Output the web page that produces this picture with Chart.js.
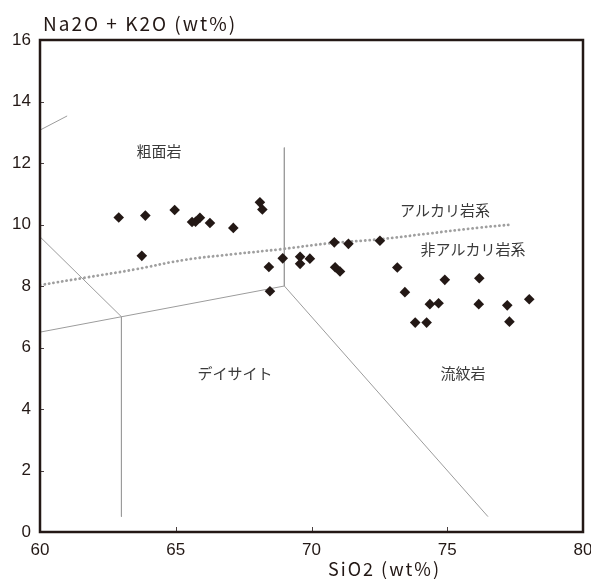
<!DOCTYPE html>
<html>
<head>
<meta charset="utf-8">
<script src="https://cdn.jsdelivr.net/npm/chart.js@4.4.1/dist/chart.umd.min.js"></script>
<style>
  html, body { margin: 0; padding: 0; background: #fff; }
  #wrap { width: 591px; height: 579px; }
</style>
</head>
<body>
<div id="wrap"><canvas id="tasChart"></canvas></div>
<script>
// sample points: SiO2 (wt%) and Na2O + K2O (wt%)
const sio2 = [62.90, 63.88, 64.96, 63.75, 65.60, 65.73, 65.89, 66.26, 67.12, 68.10,
              68.19, 68.43, 68.47, 68.94, 69.58, 69.58, 69.94, 70.84, 71.36, 72.52,
              70.87, 71.05, 73.16, 73.44, 74.91, 76.18, 74.36, 74.68, 76.16, 77.21,
              78.02, 73.82, 74.24, 77.29];
const alkali = [10.23, 10.29, 10.47, 8.98, 10.08, 10.09, 10.22, 10.05, 9.89, 10.72,
                10.49, 8.62, 7.83, 8.90, 8.95, 8.72, 8.89, 9.42, 9.37, 9.47,
                8.61, 8.47, 8.60, 7.80, 8.20, 8.25, 7.41, 7.44, 7.41, 7.37,
                7.57, 6.81, 6.81, 6.84];

// TAS field boundaries (each segment: [x1, y1, x2, y2])
const boundaries = [
  [60, 13.07, 61, 13.53],
  [69, 12.5, 69, 8],
  [60, 9.6, 63, 7],
  [60, 6.5, 63, 7],
  [63, 7, 63, 0.5],
  [63, 7, 69, 8],
  [69, 8, 76.5, 0.5]
];

// alkaline / subalkaline dividing curve
const dividerX = [60, 61.65, 63.5, 65.33, 67.17, 68.9, 70.66, 72.5, 74.34, 76.18, 77.4];
const dividerY = [8.03, 8.27, 8.54, 8.85, 9.04, 9.2, 9.39, 9.52, 9.71, 9.9, 10.0];

const rockNames = ['粗面岩', 'アルカリ岩系', '非アルカリ岩系', 'デイサイト', '流紋岩'];
const xTicks = [60, 65, 70, 75, 80];
const yTicks = [0, 2, 4, 6, 8, 10, 12, 14, 16];

const dark = '#231815';

const datasets = [{
  label: 'samples',
  data: sio2.map((x, i) => ({ x: x, y: alkali[i] })),
  pointStyle: 'rectRot',
  pointRadius: 5.3,
  pointHoverRadius: 5.3,
  backgroundColor: dark,
  borderColor: dark,
  borderWidth: 0,
  showLine: false
}, {
  label: 'divider',
  data: dividerX.map((x, i) => ({ x: x, y: dividerY[i] })),
  showLine: true,
  tension: 0.4,
  pointRadius: 0,
  borderColor: '#9f9f9f',
  borderWidth: 2.8,
  borderDash: [0.1, 4.4],
  borderCapStyle: 'round'
}];

boundaries.forEach((b, i) => {
  datasets.push({
    label: 'field' + i,
    data: [{ x: b[0], y: b[1] }, { x: b[2], y: b[3] }],
    showLine: true,
    pointRadius: 0,
    borderColor: '#9c9c9c',
    borderWidth: 1
  });
});

// where the field names sit (data units)
const namePlaces = [[64.38, 12.37], [74.92, 10.46], [75.95, 9.2], [67.18, 5.17], [75.58, 5.17]];

const decorPlugin = {
  id: 'decor',
  afterDraw(chart) {
    const { ctx, chartArea: a, scales } = chart;
    const xs = scales.x, ys = scales.y;
    ctx.save();
    ctx.setLineDash([]);
    ctx.lineCap = 'butt';

    // inward tick marks
    ctx.strokeStyle = '#4a4040';
    ctx.lineWidth = 1;
    xTicks.slice(1, -1).forEach(v => {
      const px = Math.round(xs.getPixelForValue(v)) + 0.5;
      ctx.beginPath(); ctx.moveTo(px, a.bottom); ctx.lineTo(px, a.bottom - 5); ctx.stroke();
    });
    yTicks.slice(1, -1).forEach(v => {
      const py = Math.round(ys.getPixelForValue(v)) + 0.5;
      ctx.beginPath(); ctx.moveTo(a.left, py); ctx.lineTo(a.left + 4, py); ctx.stroke();
    });

    // frame
    ctx.strokeStyle = dark;
    ctx.lineWidth = 2.5;
    ctx.strokeRect(a.left, a.top, a.right - a.left, a.bottom - a.top);

    // field names
    ctx.fillStyle = '#3a3a3a';
    ctx.font = '15px "Noto Sans CJK JP"';
    ctx.textAlign = 'center';
    ctx.textBaseline = 'middle';
    rockNames.forEach((t, i) => {
      ctx.fillText(t, xs.getPixelForValue(namePlaces[i][0]), ys.getPixelForValue(namePlaces[i][1]));
    });

    // axis titles
    ctx.fillStyle = dark;
    ctx.letterSpacing = '2px';
    ctx.font = '19px "Noto Sans CJK JP"';
    ctx.textAlign = 'left';
    ctx.textBaseline = 'alphabetic';
    ctx.fillText('Na2O + K2O (wt%)', a.left + 3, 31);
    ctx.font = '18px "Noto Sans CJK JP"';
    ctx.fillText('SiO2 (wt%)', 328, 576);
    ctx.restore();
  }
};

const ctx = document.getElementById('tasChart').getContext('2d');
const tasChart = new Chart(ctx, {
  type: 'scatter',
  data: { datasets: datasets },
  options: {
    responsive: true,
    maintainAspectRatio: false,
    animation: false,
    layout: { padding: { top: 40, right: 8, left: 0, bottom: 0 } },
    scales: {
      x: {
        type: 'linear',
        min: 60,
        max: 80,
        afterFit: s => { s.height = 47; s.paddingLeft = 0; s.paddingRight = 0; },
        afterBuildTicks: s => { s.ticks = xTicks.map(v => ({ value: v })); },
        grid: { display: false, drawTicks: false },
        border: { display: false },
        ticks: {
          padding: 8,
          color: dark,
          maxRotation: 0,
          font: { family: 'Liberation Sans', size: 17 }
        }
      },
      y: {
        type: 'linear',
        min: 0,
        max: 16,
        afterFit: s => { s.width = 40; s.paddingTop = 0; s.paddingBottom = 0; },
        afterBuildTicks: s => { s.ticks = yTicks.map(v => ({ value: v })); },
        grid: { display: false, drawTicks: false },
        border: { display: false },
        ticks: {
          padding: 9,
          color: dark,
          font: { family: 'Liberation Sans', size: 17 }
        }
      }
    },
    plugins: {
      legend: { display: false },
      tooltip: { enabled: false }
    }
  },
  plugins: [decorPlugin]
});
</script>
</body>
</html>
